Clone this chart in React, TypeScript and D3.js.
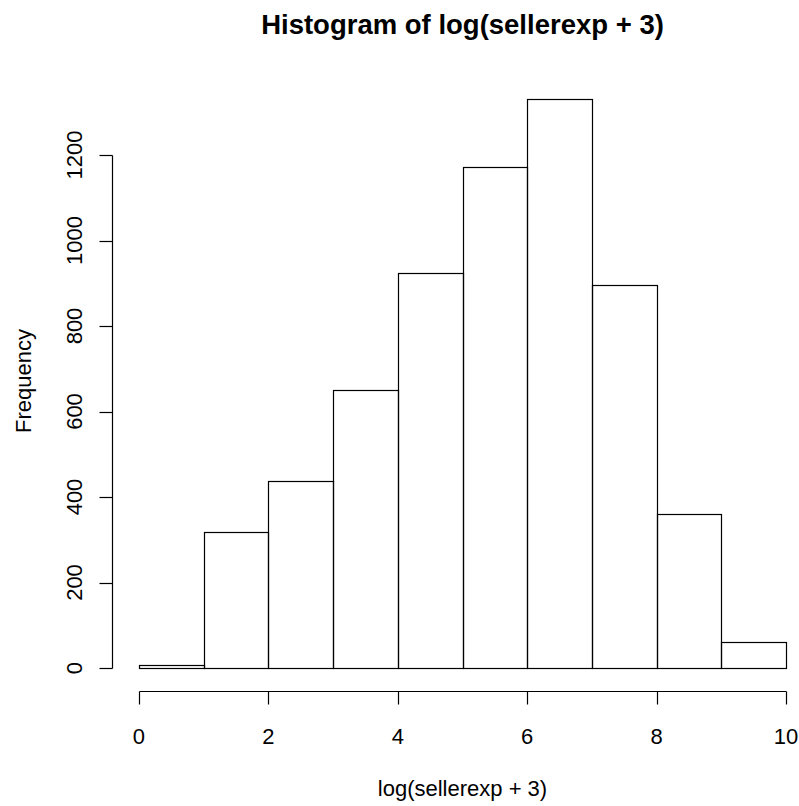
import { useEffect, useRef } from 'react';
import * as d3 from 'd3';

// histogram of log(sellerexp + 3), unit-width bins
const binEdges = [0, 1, 2, 3, 4, 5, 6, 7, 8, 9, 10];
const counts = [6, 319, 437, 650, 923, 1173, 1332, 897, 361, 61];
const xTicks = [0, 2, 4, 6, 8, 10];
const yTicks = [0, 200, 400, 600, 800, 1000, 1200];

const W = 799;
const H = 806;
const FONT = '"Liberation Sans", Arial, Helvetica, sans-serif';
const LAB = 22;

const App = () => {
    const svgRef = useRef<SVGSVGElement>(null);

    useEffect(() => {
        const svg = d3.select(svgRef.current);
        svg.selectAll('*').remove();

        // R-style usr extents: 4% padding each side
        const x = d3.scaleLinear().domain([-0.4, 10.4]).range([113, 812]);
        const y = d3.scaleLinear().domain([0, 1200]).range([668, 155]);
        const axisY = 691.5;
        const axisX = 112.5;

        svg.append('rect').attr('width', W).attr('height', H).attr('fill', '#fff');

        const bins = counts.map((c, i) => ({ x0: binEdges[i], x1: binEdges[i + 1], c }));

        svg.append('g')
            .selectAll('rect')
            .data(bins)
            .enter()
            .append('rect')
            .attr('x', d => Math.round(x(d.x0)) + 0.5)
            .attr('y', d => Math.round(y(d.c)) + 0.5)
            .attr('width', d => Math.round(x(d.x1)) - Math.round(x(d.x0)))
            .attr('height', d => Math.round(y(0)) - Math.round(y(d.c)))
            .attr('fill', 'none')
            .attr('stroke', '#000')
            .attr('stroke-width', 1.2);

        // x axis
        const gx = svg.append('g').attr('stroke', '#000').attr('stroke-width', 1.2);
        gx.append('line')
            .attr('x1', Math.round(x(0)) + 0.5).attr('x2', Math.round(x(10)) + 0.5)
            .attr('y1', axisY).attr('y2', axisY);
        gx.selectAll('.tick')
            .data(xTicks)
            .enter()
            .append('line')
            .attr('x1', d => Math.round(x(d)) + 0.5).attr('x2', d => Math.round(x(d)) + 0.5)
            .attr('y1', axisY).attr('y2', axisY + 13);
        svg.append('g')
            .selectAll('text')
            .data(xTicks)
            .enter()
            .append('text')
            .attr('x', d => x(d))
            .attr('y', 744)
            .attr('text-anchor', 'middle')
            .attr('font-family', FONT)
            .attr('font-size', LAB)
            .text(d => d);

        // y axis
        const gy = svg.append('g').attr('stroke', '#000').attr('stroke-width', 1.2);
        gy.append('line')
            .attr('x1', axisX).attr('x2', axisX)
            .attr('y1', Math.round(y(0)) + 0.5).attr('y2', Math.round(y(1200)) + 0.5);
        gy.selectAll('.tick')
            .data(yTicks)
            .enter()
            .append('line')
            .attr('x1', axisX).attr('x2', axisX - 13)
            .attr('y1', d => Math.round(y(d)) + 0.5).attr('y2', d => Math.round(y(d)) + 0.5);
        svg.append('g')
            .selectAll('text')
            .data(yTicks)
            .enter()
            .append('text')
            .attr('transform', d => `translate(82,${y(d)}) rotate(-90)`)
            .attr('text-anchor', 'middle')
            .attr('font-family', FONT)
            .attr('font-size', LAB)
            .text(d => d);

        // labels
        svg.append('text')
            .attr('x', x(5)).attr('y', 34)
            .attr('text-anchor', 'middle')
            .attr('font-family', FONT)
            .attr('font-size', 27.5)
            .attr('font-weight', 'bold')
            .text('Histogram of log(sellerexp + 3)');

        svg.append('text')
            .attr('x', x(5)).attr('y', 796)
            .attr('text-anchor', 'middle')
            .attr('font-family', FONT)
            .attr('font-size', LAB)
            .text('log(sellerexp + 3)');

        svg.append('text')
            .attr('transform', `translate(31,381) rotate(-90)`)
            .attr('text-anchor', 'middle')
            .attr('font-family', FONT)
            .attr('font-size', LAB)
            .text('Frequency');
    }, []);

    return (
        <svg
            ref={svgRef}
            width={W}
            height={H}
            style={{ position: 'absolute', left: 0, top: 0, display: 'block' }}
        />
    );
};

export default App;
